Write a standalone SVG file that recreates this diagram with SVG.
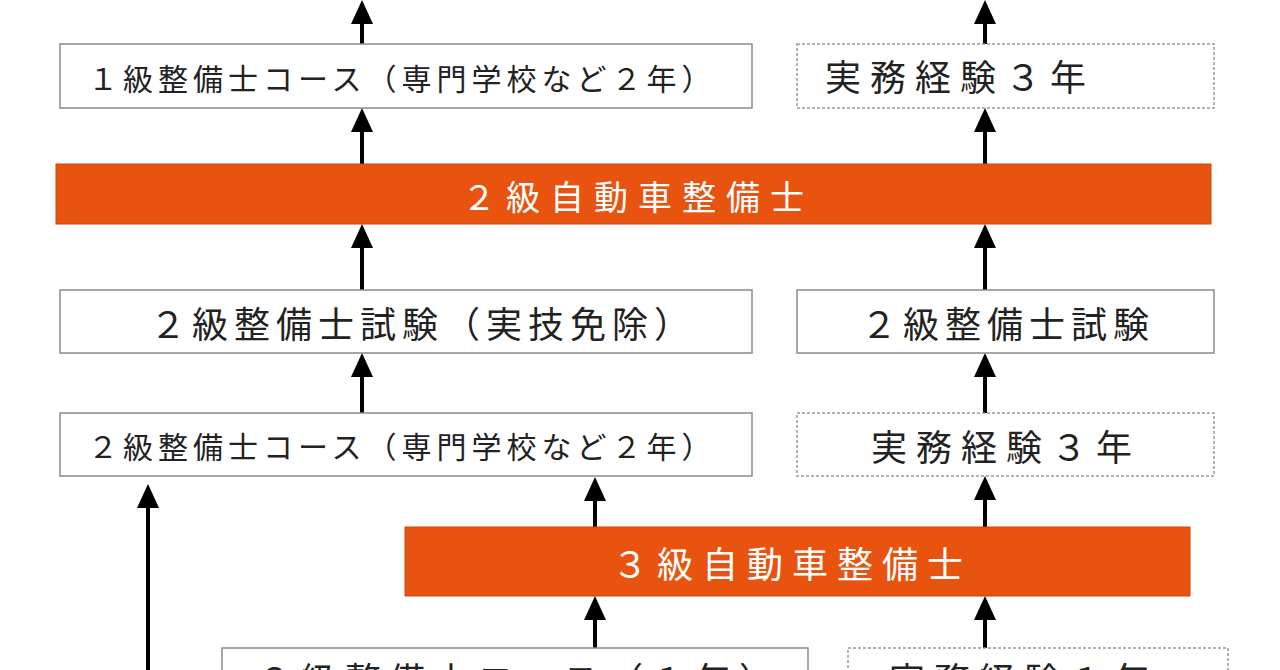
<svg xmlns="http://www.w3.org/2000/svg" width="1280" height="670" viewBox="0 0 1280 670">
<style>
.b{fill:#fff;stroke:#8a8a8a;stroke-width:1.5}
.d{fill:#fff;stroke:#999;stroke-width:1.5;stroke-dasharray:3 2}
.o{fill:#e8540f;stroke:#c9470c;stroke-width:1}
text{font-family:"Noto Sans CJK JP",sans-serif;fill:#222;dominant-baseline:central}
.w{fill:#fff}
.c{stroke:#000;stroke-width:4;marker-end:url(#a)}
</style>
<defs><marker id="a" markerUnits="userSpaceOnUse" markerWidth="24" markerHeight="22" refX="20" refY="11" orient="auto" viewBox="0 0 24 22"><path d="M0 0 L24 11 L0 22Z" fill="#000"/></marker></defs>
<rect width="1280" height="670" fill="#fff"/>
<g id="connectors">
<line class="c" x1="362" y1="44" x2="362" y2="4"/>
<line class="c" x1="985" y1="44" x2="985" y2="4"/>
<line class="c" x1="362" y1="164" x2="362" y2="112"/>
<line class="c" x1="985" y1="164" x2="985" y2="112"/>
<line class="c" x1="362" y1="290" x2="362" y2="228"/>
<line class="c" x1="985" y1="290" x2="985" y2="228"/>
<line class="c" x1="362" y1="413" x2="362" y2="357"/>
<line class="c" x1="985" y1="413" x2="985" y2="357"/>
<line class="c" x1="148" y1="670" x2="148" y2="488"/>
<line class="c" x1="595" y1="527" x2="595" y2="481"/>
<line class="c" x1="985" y1="527" x2="985" y2="480"/>
<line class="c" x1="595" y1="648" x2="595" y2="600"/>
<line class="c" x1="985" y1="648" x2="985" y2="600"/>
</g>
<g id="n1"><rect class="b" x="60" y="44" width="692" height="64"/><text x="88" y="77" font-size="30" letter-spacing="5">１級整備士コース（専門学校など２年）</text></g>
<g id="n2"><rect class="d" x="797" y="44" width="417" height="64"/><text x="825" y="75" font-size="36" letter-spacing="9">実務経験３年</text></g>
<g id="n3"><rect class="o" x="56" y="164" width="1155" height="60"/><text class="w" x="638" y="195" font-size="34" text-anchor="middle" letter-spacing="10">２級自動車整備士</text></g>
<g id="n4"><rect class="b" x="60" y="290" width="692" height="63"/><text x="150" y="322" font-size="36" letter-spacing="6">２級整備士試験（実技免除）</text></g>
<g id="n5"><rect class="b" x="797" y="290" width="417" height="63"/><text x="1008" y="322" font-size="36" text-anchor="middle" letter-spacing="6">２級整備士試験</text></g>
<g id="n6"><rect class="b" x="60" y="413" width="692" height="63"/><text x="88" y="445" font-size="30" letter-spacing="5">２級整備士コース（専門学校など２年）</text></g>
<g id="n7"><rect class="d" x="797" y="413" width="417" height="63"/><text x="1006" y="445" font-size="36" text-anchor="middle" letter-spacing="9">実務経験３年</text></g>
<g id="n8"><rect class="o" x="405" y="527" width="785" height="69"/><text class="w" x="792" y="562" font-size="36" text-anchor="middle" letter-spacing="9">３級自動車整備士</text></g>
<g id="n9"><rect class="b" x="222" y="648" width="586" height="60"/><text x="520" y="678" font-size="36" text-anchor="middle" letter-spacing="8">２級整備士コース（１年）</text></g>
<g id="n10"><rect class="d" x="848" y="648" width="380" height="60"/><text x="1024" y="678" font-size="36" text-anchor="middle" letter-spacing="9">実務経験１年</text></g>
</svg>
